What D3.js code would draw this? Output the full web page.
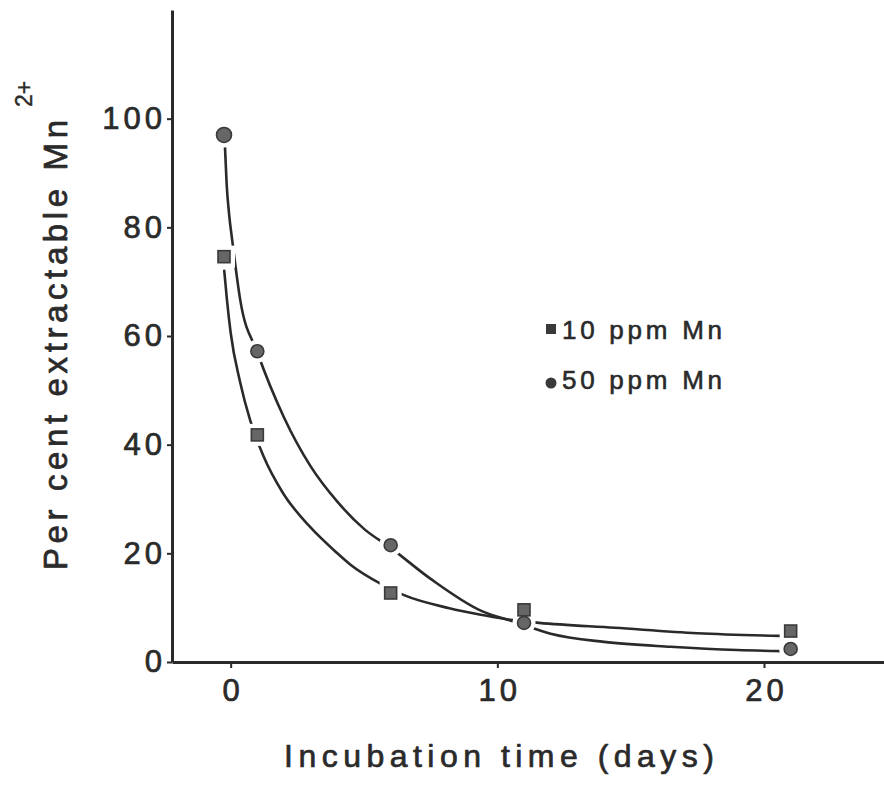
<!DOCTYPE html>
<html><head><meta charset="utf-8">
<script src="https://cdn.jsdelivr.net/npm/d3@7"></script>
<style>body{margin:0;background:#fff}svg{display:block}</style>
</head><body>
<svg id="chart" width="884" height="787"></svg>
<script>
const days = [-0.25, 1, 6, 11, 21];
const mn10ppm = [74.6, 41.8, 12.7, 9.6, 5.7];
const mn50ppm = [97, 57.2, 21.5, 7.2, 2.4];
// ---- hand-drawn fitted curves ----
const fit10Days = [-0.24, -0.14, 0, 0.36, 0.73, 1.22, 1.96, 2.97, 3.98, 4.47, 5.7, 6.5, 8.2, 9.44, 10.56, 11.57, 14.4, 17.5, 20.6];
const fit10Values = [72, 66.7, 60.6, 51.4, 44.5, 38, 31.1, 24.9, 20.1, 18, 14.2, 12.3, 9.9, 8.65, 7.7, 7.2, 6.3, 5.3, 4.8];
const fit50Days = [-0.22, -0.15, -0.056, 0.056, 0.36, 1, 2, 3, 4, 5, 6, 7.5, 9.4, 10.7, 12, 14, 16.5, 19, 20.7];
const fit50Values = [95.5, 87.9, 82.3, 77.7, 66.6, 57, 45, 36, 29.5, 24.5, 21, 15.3, 9.4, 7.3, 5.2, 3.7, 2.8, 2.2, 2.0];
const xTickValues = [0, 10, 20];
const yTickValues = [0, 20, 40, 60, 80, 100];
const seriesNames = ["10 ppm Mn", "50 ppm Mn"];
const xTitle = "Incubation time (days)";
const yTitle = "Per cent extractable Mn";
const yTitleSup = "2+";

const svg = d3.select("#chart");
const ink = "#2a2a2a";
const FONT = "'Liberation Sans', Arial, Helvetica, sans-serif";

const x = d3.scaleLinear().domain([-2.2, 24.5]).range([172, 884]);
const y = d3.scaleLinear().domain([0, 120]).range([662, 10]);

function heavy(sel, w) {
  return sel.attr("stroke", ink).attr("stroke-width", w).attr("stroke-linejoin", "round");
}

// axes
const xAxis = svg.append("g").attr("transform", `translate(0,${y(0)})`)
  .call(d3.axisBottom(x).tickValues(xTickValues).tickSize(6).tickSizeOuter(0).tickPadding(11));
const yAxis = svg.append("g").attr("transform", `translate(${x(-2.2)},0)`)
  .call(d3.axisLeft(y).tickValues(yTickValues).tickSize(5).tickSizeOuter(0).tickPadding(1));

[xAxis, yAxis].forEach(g => {
  g.select(".domain").attr("stroke", ink).attr("stroke-width", 3);
  g.selectAll(".tick line").attr("stroke", ink).attr("stroke-width", 2);
  heavy(g.selectAll(".tick text").attr("fill", ink).attr("font-family", FONT)
    .attr("font-size", 31).style("letter-spacing", "4px"), 0.7);
});
xAxis.selectAll(".tick text").attr("dx", "2px");

// series
const series = [
  {name: seriesNames[0], values: mn10ppm, fitX: fit10Days, fitY: fit10Values, shape: "square"},
  {name: seriesNames[1], values: mn50ppm, fitX: fit50Days, fitY: fit50Values, shape: "circle"}
];
const line = d3.line().x(d => x(d[0])).y(d => y(d[1])).curve(d3.curveMonotoneX);

series.forEach(s => {
  const pts = s.fitX.map((d, i) => [d, s.fitY[i]]);
  svg.append("path").datum(pts).attr("d", line)
    .attr("fill", "none").attr("stroke", ink).attr("stroke-width", 2.6).attr("stroke-linecap", "round");
});

// markers with white halo to create gaps in lines
function drawMarker(g, shape, cx, cy, size, halo) {
  const el = shape === "square"
    ? g.append("rect").attr("x", cx - size / 2).attr("y", cy - size / 2).attr("width", size).attr("height", size)
    : g.append("circle").attr("cx", cx).attr("cy", cy).attr("r", size / 2);
  el.attr("fill", halo ? "#fff" : "#666")
    .attr("stroke", halo ? "#fff" : "#3a3a3a")
    .attr("stroke-width", halo ? 10 : 1.6);
}
const haloG = svg.append("g");
const markG = svg.append("g");
const markerSize = (shape, i) => shape === "square" ? 12 : (i === 0 ? 15 : 13);
series.forEach(s => days.forEach((d, i) =>
  drawMarker(haloG, s.shape, x(d), y(s.values[i]), markerSize(s.shape, i), true)));
series.forEach(s => days.forEach((d, i) =>
  drawMarker(markG, s.shape, x(d), y(s.values[i]), markerSize(s.shape, i), false)));

// legend
const legend = svg.append("g");
series.forEach((s, i) => {
  const ly = 333 + i * 50;
  if (s.shape === "square") {
    legend.append("rect").attr("x", 546).attr("y", ly - 9).attr("width", 10).attr("height", 10).attr("fill", "#3a3a3a");
  } else {
    legend.append("circle").attr("cx", 551).attr("cy", ly).attr("r", 5.5).attr("fill", "#3a3a3a");
  }
  heavy(legend.append("text").attr("x", 562).attr("y", ly + 6)
    .attr("font-family", FONT).attr("font-size", 26).attr("fill", ink)
    .attr("textLength", 160).attr("lengthAdjust", "spacing")
    .text(s.name), 0.6);
});

// axis titles
heavy(svg.append("text").attr("x", 499).attr("y", 767).attr("text-anchor", "middle")
  .attr("font-family", FONT).attr("font-size", 32).attr("fill", ink)
  .attr("textLength", 430).attr("lengthAdjust", "spacing").text(xTitle), 0.7);

heavy(svg.append("text").attr("transform", "translate(67,345) rotate(-90)").attr("text-anchor", "middle")
  .attr("font-family", FONT).attr("font-size", 33).attr("fill", ink)
  .attr("textLength", 450).attr("lengthAdjust", "spacing").text(yTitle), 0.7);

heavy(svg.append("text").attr("transform", "translate(32,94) rotate(-90)").attr("text-anchor", "middle")
  .attr("font-family", FONT).attr("font-size", 23).attr("fill", ink).text(yTitleSup), 0.4);
</script>
</body></html>
